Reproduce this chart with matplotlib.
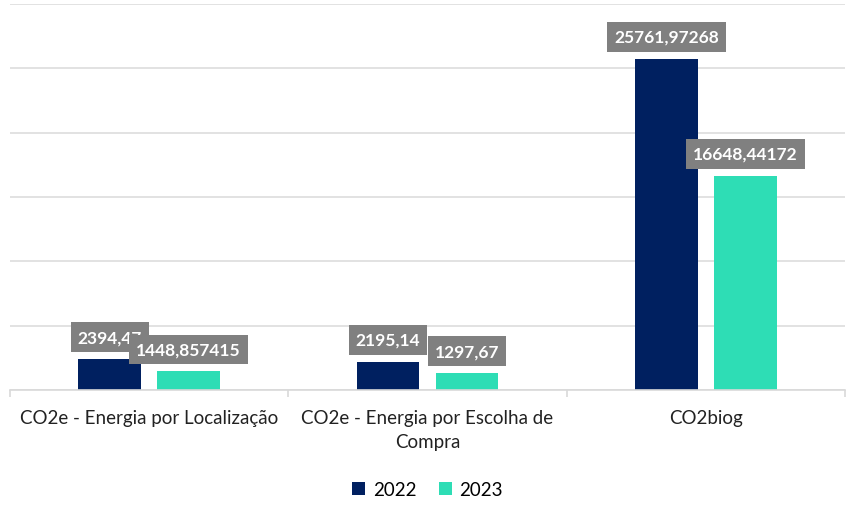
import numpy as np
import matplotlib.pyplot as plt

categorias = ["CO2e - Energia por Localização",
              "CO2e - Energia por Escolha de\nCompra",
              "CO2biog"]
valores_2022 = [2394.47, 2195.14, 25761.97268]
valores_2023 = [1448.857415, 1297.67, 16648.44172]
rotulos_2022 = ["2394,47", "2195,14", "25761,97268"]
rotulos_2023 = ["1448,857415", "1297,67", "16648,44172"]

plt.rcParams['font.family'] = ['Lato', 'DejaVu Sans']

fig = plt.figure(figsize=(8.55, 5.1), dpi=100)
ax = fig.add_axes([10 / 855, 1 - 391 / 510, 835 / 855, 386 / 510])

x = np.arange(len(categorias))
w = 0.225
cor_2022 = "#002060"
cor_2023 = "#2EDDB5"

b1 = ax.bar(x - 0.142, valores_2022, w, color=cor_2022, label="2022", zorder=2)
b2 = ax.bar(x + 0.142, valores_2023, w, color=cor_2023, label="2023", zorder=2)

caixa = dict(boxstyle="square,pad=0.4", fc="#808080", ec="none")
for z, (barras, rotulos) in enumerate(((b1, rotulos_2022), (b2, rotulos_2023))):
    for b, r in zip(barras, rotulos):
        ax.annotate(r, (b.get_x() + b.get_width() / 2, b.get_height()),
                    xytext=(0, 10), textcoords="offset points",
                    ha="center", va="bottom", color="white",
                    fontsize=12.5, fontweight="bold", bbox=caixa, zorder=5 + z)

ax.set_xlim(-0.5, 2.5)
ax.set_ylim(0, 30000)
ax.set_yticks(np.arange(0, 30001, 5000))
ax.yaxis.grid(True, color="#DDDDDD", lw=1.2, zorder=0)
ax.tick_params(axis="y", left=False, labelleft=False)
for s in ("top", "right", "left"):
    ax.spines[s].set_visible(False)
ax.spines["bottom"].set_color("#D9D9D9")
ax.spines["bottom"].set_linewidth(1.2)

ax.set_xticks(x)
ax.set_xticklabels(categorias, fontsize=13.5, color="#222222", linespacing=1.5)
ax.tick_params(axis="x", length=0, pad=14)
ax.set_xticks([-0.5, 0.5, 1.5, 2.5], minor=True)
ax.tick_params(axis="x", which="minor", length=5, color="#D9D9D9", width=1.2)

fig.legend(loc="lower center", bbox_to_anchor=(0.5, -0.012), ncol=2, frameon=False,
           fontsize=13.5, handlelength=0.7, handleheight=0.7, handletextpad=0.4,
           columnspacing=1.2)

fig.savefig("out.png", dpi=100)
